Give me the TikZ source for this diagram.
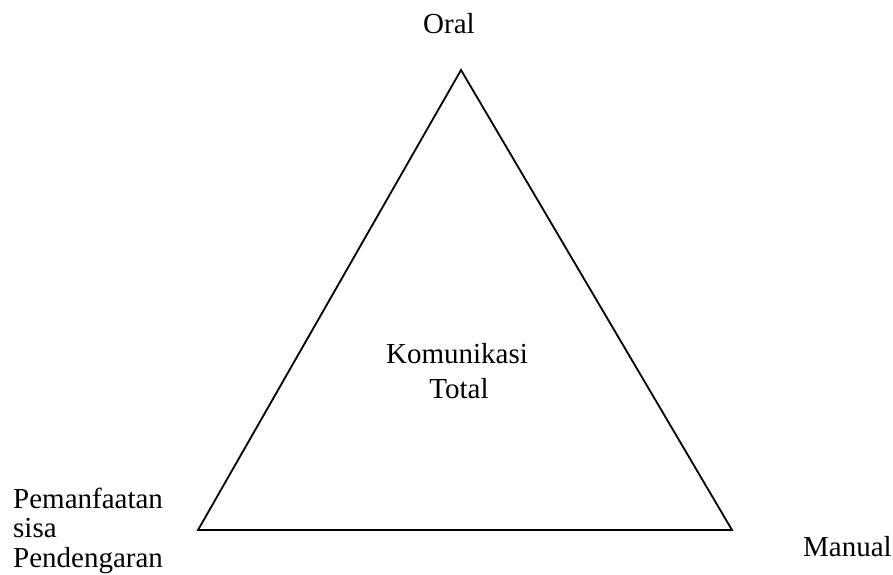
\documentclass[tikz,border=0pt]{standalone}
\usepackage{fontspec}
\setmainfont{Liberation Serif}
\begin{document}
\begin{tikzpicture}[x=1pt,y=-1pt,
  lbl/.style={inner sep=0pt, font=\fontsize{29}{29.5}\selectfont},
  edge/.style={line width=1.8pt, line join=miter}]
\useasboundingbox (0,0) rectangle (893,574);
\coordinate (top) at (461,70);
\coordinate (bl) at (198,530);
\coordinate (br) at (732,530);
\draw[edge] (top) -- (bl) -- (br) -- cycle;
\node[lbl, anchor=base] (oral) at (449,33) {Oral};
\node[lbl, anchor=base] (kom) at (457,363) {Komunikasi};
\node[lbl, anchor=base] (tot) at (459,398) {Total};
\node[lbl, align=left, anchor=base west] (pem) at (13,567) {Pemanfaatan\\sisa\\Pendengaran};
\node[lbl, anchor=base west] (man) at (803,556) {Manual};
\end{tikzpicture}
\end{document}
